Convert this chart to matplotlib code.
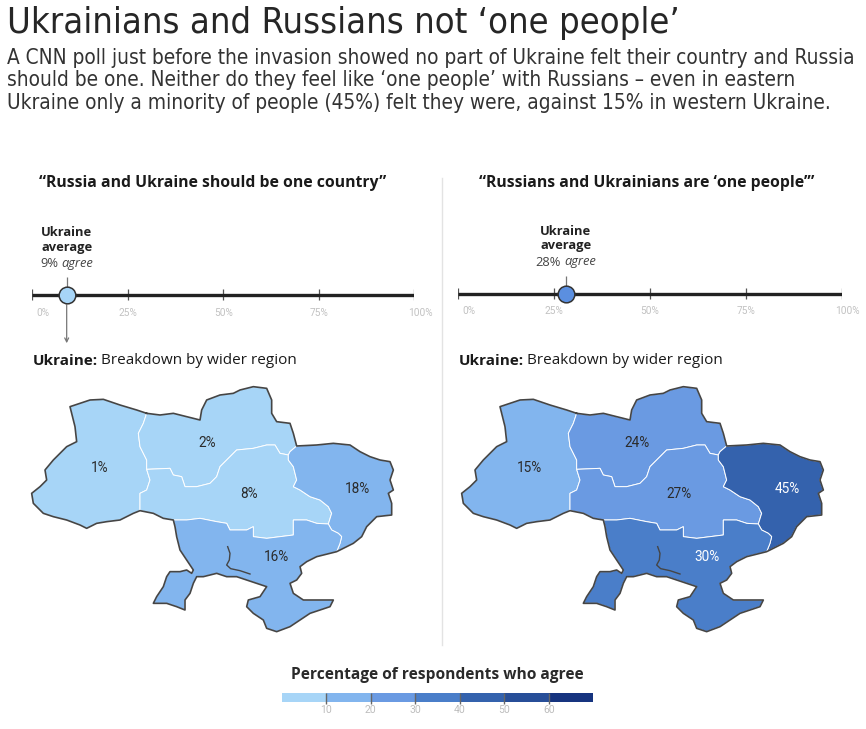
import matplotlib
matplotlib.use("Agg")
import matplotlib.pyplot as plt
from matplotlib.patches import Polygon
from matplotlib.transforms import offset_copy
from matplotlib import font_manager as fm
import numpy as np

# ---------------- data ----------------
regions = ["West", "North", "Center", "East", "South"]
one_country = [1, 2, 8, 18, 16]
one_people = [15, 24, 27, 45, 30]
averages = [9, 28]
panel_titles = ["\u201cRussia and Ukraine should be one country\u201d",
                "\u201cRussians and Ukrainians are \u2018one people\u2019\u201d"]
axis_ticks = [0, 25, 50, 75, 100]
axis_ticklabels = ["0%", "25%", "50%", "75%", "100%"]
legend_bins = [0, 10, 20, 30, 40, 50, 60, 70]
legend_ticklabels = ["10", "20", "30", "40", "50", "60"]
bin_colors = ["#a7d5f7", "#82b5ee", "#6a9ae2", "#4a7ec9", "#3462ad", "#274e98", "#16347f"]

TITLE = "Ukrainians and Russians not \u2018one people\u2019"
SUB = ["A CNN poll just before the invasion showed no part of Ukraine felt their country and Russia",
       "should be one. Neither do they feel like \u2018one people\u2019 with Russians \u2013 even in eastern",
       "Ukraine only a minority of people (45%) felt they were, against 15% in western Ukraine."]

# ---------------- map geometry (schematic outline, map units) ----------------
north_outer = [(440,100),(480,105),(520,100),(560,110),(600,120),(605,90),(620,60),(660,45),(700,40),
               (720,30),(760,20),(800,25),(815,60),(815,100),(830,125),(870,130),(880,160),(890,198)]
east_outer = [(890,198),(950,195),(1000,190),(1050,195),(1080,215),(1110,230),(1140,240),(1170,245),
              (1180,270),(1170,300),(1180,330),(1165,340),(1175,370),(1175,405),(1130,410),(1100,440),
              (1085,470),(1060,490),(1030,505),(1010,515)]
south_outer = [(1010,515),(990,520),(950,530),(920,545),(900,560),(905,580),(890,600),(870,610),(880,640),
               (910,660),(950,660),(1000,660),(990,680),(960,690),(930,700),(900,720),(870,740),(830,755),
               (800,745),(790,720),(760,700),(740,680),(745,660),(780,650),(800,620),(770,610),(740,600),
               (710,590),(680,590),(650,580),(630,585),(610,590),(590,590),(580,610),(570,640),(555,660),
               (555,690),(530,680),(500,670),(460,670),(470,650),(490,620),(500,590),(510,575),(540,575),
               (560,570),(575,580),(580,570),(560,540),(540,510),(530,470),(525,440),(520,420)]
center_outer = [(520,420),(490,415),(460,400),(420,392)]
west_outer = [(420,392),(400,400),(360,420),(320,425),(290,430),(260,445),(240,435),(200,420),(160,410),
              (130,400),(100,370),(95,340),(120,320),(140,300),(135,270),(160,240),(200,200),(230,185),
              (225,140),(210,80),(270,60),(310,58),(360,75),(410,90),(440,100)]
b_wn = [(440,100),(430,130),(415,160),(420,200),(440,240),(440,268)]
b_wc = [(440,268),(450,300),(440,330),(420,340),(420,380),(420,392)]
b_nc = [(440,268),(510,265),(520,285),(545,290),(555,320),(590,320),(630,310),(650,290),(660,260),
        (690,230),(710,210),(760,205),(800,195),(825,195),(840,220),(865,225)]
b_ne = [(890,198),(870,215),(865,225)]
b_ce = [(865,225),(865,240),(880,260),(890,300),(880,320),(900,330),(930,350),(960,360),(985,380),
        (995,400),(985,432)]
b_cs = [(520,420),(560,420),(600,415),(650,425),(680,430),(690,450),(740,450),(760,440),(760,470),
        (800,475),(840,470),(880,465),(880,420),(920,420),(950,430),(985,432)]
b_es = [(985,432),(995,450),(1015,460),(1025,470),(1020,490),(1010,515)]
estuary = [(683,500),(690,520),(688,540),(680,555),(692,566),(720,572),(750,582)]

def rev(p):
    return p[::-1]

region_polys = {
    "West": west_outer + b_wn + b_wc,
    "North": north_outer + b_ne + rev(b_nc) + rev(b_wn),
    "Center": b_nc + b_ce + rev(b_cs) + center_outer + rev(b_wc),
    "East": east_outer + rev(b_es) + rev(b_ce) + rev(b_ne),
    "South": south_outer + b_cs + b_es,
}
outer_ring = north_outer + east_outer + south_outer + center_outer + west_outer
label_pos = {"West": (298, 265), "North": (622, 190), "Center": (748, 342),
             "East": (1072, 328), "South": (830, 532)}

# ---------------- fonts ----------------
def find_condensed():
    best = None
    for f in fm.fontManager.ttflist:
        nm = f.name.lower()
        st = str(f.stretch).lower()
        is_cond = ("condensed" in nm or "narrow" in nm or "condensed" in st or "narrow" in st)
        if not is_cond or "extra" in nm or "ultra" in nm or "semi" in nm:
            continue
        if f.style != "normal":
            continue
        w = f.weight if isinstance(f.weight, int) else 400
        score = abs(w - 350)
        if best is None or score < best[0]:
            best = (score, f.fname)
    return best[1] if best else None

cond_file = find_condensed()
if cond_file:
    HEAD = dict(fontproperties=fm.FontProperties(fname=cond_file))
else:
    HEAD = dict(family=["Roboto", "DejaVu Sans"], fontweight="light")

BOLD = dict(family=["Open Sans", "DejaVu Sans"], fontweight="bold")
REG = dict(family=["Open Sans", "DejaVu Sans"])
ROB = dict(family=["Roboto", "DejaVu Sans"])

# ---------------- figure ----------------
W, H = 866, 729
fig = plt.figure(figsize=(W/100, H/100), dpi=100)
fig.patch.set_facecolor("white")
renderer = fig.canvas.get_renderer()

def fx(x): return x / W
def fy(y): return 1 - y / H

def fit(t, target_px, max_size=None):
    w = t.get_window_extent(renderer).width
    s = t.get_fontsize() * target_px / w
    if max_size is not None:
        s = min(s, max_size)
    t.set_fontsize(s)
    return t

t = fig.text(fx(7), fy(33), TITLE, fontsize=25, color="#262626", va="baseline", **HEAD)
fit(t, 681, max_size=26)
sub_targets = [853, 793, 810]
sizes = []
subs = []
for i, line in enumerate(SUB):
    s = fig.text(fx(7), fy(64 + 22.5 * i), line, fontsize=15, color="#333333", va="baseline", **HEAD)
    fit(s, sub_targets[i], max_size=15.5)
    sizes.append(s.get_fontsize())
    subs.append(s)
ms = float(np.median(sizes))
for s in subs:
    s.set_fontsize(ms)

# divider
fig.add_artist(plt.Line2D([fx(442), fx(442)], [fy(178), fy(645)], color="#e3e3e3", lw=1))

def two_part(owner, x, y, a, b, kw_a, kw_b, gap_px=0.0, center=False, transform=None):
    t1 = owner.text(x, y, a, transform=transform, **kw_a)
    t2 = owner.text(x, y, b, transform=transform, **kw_b)
    w1 = t1.get_window_extent(renderer).width + gap_px
    w2 = t2.get_window_extent(renderer).width
    tot = w1 + w2
    if center:
        t1.set_transform(offset_copy(transform, fig=fig, x=-tot/2 * 0.72, y=0, units="points"))
        t2.set_transform(offset_copy(transform, fig=fig, x=(-tot/2 + w1) * 0.72, y=0, units="points"))
    else:
        t2.set_transform(offset_copy(transform, fig=fig, x=w1 * 0.72, y=0, units="points"))
    t1.set_ha("left"); t2.set_ha("left")
    return t1, t2

panel_axes_x = [(32.3, 414.3, 295.0), (458.3, 841.7, 293.5)]
panel_title_x = [213, 647]
dot_colors = [bin_colors[0], "#5b8fe0"]
map_offsets = [0.0, 430.0]
values = [one_country, one_people]

pt_size = None
for p in range(2):
    x0, x1, yl = panel_axes_x[p]
    pt = fig.text(fx(panel_title_x[p]), fy(183), panel_titles[p], fontsize=10.3,
                  color="#1a1a1a", ha="center", va="center", **BOLD)
    if p == 0:
        fit(pt, 345)
        pt_size = pt.get_fontsize()
    else:
        pt.set_fontsize(pt_size)
    ax = fig.add_axes([fx(x0), fy(yl + 55), (x1 - x0) / W, 100 / H])
    ax.set_xlim(0, 100)
    ax.set_ylim(-55, 45)
    ax.axis("off")
    ax.plot([0, 100], [0, 0], color="#222222", lw=2.4, solid_capstyle="butt", zorder=2)
    ax.vlines(axis_ticks, -5.5, 5.5, color="#555555", lw=0.9, zorder=1)
    for tk, lab in zip(axis_ticks, axis_ticklabels):
        ha = "left" if tk == 0 else "center"
        dx = 1.0 if tk == 0 else (1.5 if tk == 100 else 0)
        ax.text(tk + dx, -18, lab, ha=ha, va="center", fontsize=7.3, color="#c2c2c2", **ROB)
    avg = averages[p]
    ax.vlines([avg], 7, 18, color="#777777", lw=0.9)
    ax.plot([avg], [0], "o", ms=12, mfc=dot_colors[p], mec="#333333", mew=1.1, zorder=5)
    if p == 0:
        ax.annotate("", xy=(avg, -51), xytext=(avg, -7),
                    arrowprops=dict(arrowstyle="->", color="#777777", lw=0.9,
                                    mutation_scale=7), annotation_clip=False)
    ax.text(avg, 62, "Ukraine", ha="center", va="center", fontsize=9.3,
            color="#222222", **BOLD)
    ax.text(avg, 47.5, "average", ha="center", va="center", fontsize=9.3,
            color="#222222", **BOLD)
    two_part(ax, avg, 31.5, f"{avg}%", "agree",
             dict(fontsize=9.3, color="#444444", va="center", **REG),
             dict(fontsize=9.3, color="#444444", style="italic", va="center", **REG),
             gap_px=3.5, center=True, transform=ax.transData)

    # breakdown heading
    two_part(fig, fx(x0 + 0.5), fy(361), "Ukraine:", "Breakdown by wider region",
             dict(fontsize=11, color="#1a1a1a", va="center", **BOLD),
             dict(fontsize=11, color="#1a1a1a", va="center", **REG),
             gap_px=3.0, transform=fig.transFigure)

    # map
    off = map_offsets[p]
    mx = fig.add_axes([fx(off), fy(640), 440 / W, 260 / H])
    mx.set_xlim(0, 1320)
    mx.set_ylim(780, 0)
    mx.axis("off")
    vals = values[p]
    for name, v in zip(regions, vals):
        c = bin_colors[min(int(v // 10), 6)]
        mx.add_patch(Polygon(region_polys[name], closed=True, fc=c, ec="white", lw=0.7, zorder=1))
        lx_, ly_ = label_pos[name]
        tc = "white" if v >= 30 else "#2b2b2b"
        mx.text(lx_, ly_, f"{v}%", ha="center", va="center", fontsize=9.8, color=tc, zorder=4, **ROB)
    ring = np.array(outer_ring + [outer_ring[0]])
    mx.plot(ring[:, 0], ring[:, 1], color="#454545", lw=1.2, zorder=3, solid_joinstyle="round")
    est = np.array(estuary)
    mx.plot(est[:, 0], est[:, 1], color="#454545", lw=1.0, zorder=3)

# legend
lt = fig.text(fx(437), fy(675), "Percentage of respondents who agree", fontsize=11,
              color="#2a2a2a", ha="center", va="center", **BOLD)
fit(lt, 291)
lx = fig.add_axes([fx(281.7), fy(712), (593.3 - 281.7) / W, 20 / H])
lx.set_xlim(0, 70)
lx.set_ylim(-10.3, 9.7)
lx.axis("off")
lefts = legend_bins[:-1]
widths = np.diff(legend_bins)
lx.bar(lefts, [9] * len(lefts), width=widths, bottom=0, align="edge", color=bin_colors, lw=0)
lx.vlines(legend_bins[1:-1], -2, 9, color="#666666", lw=1.0)
for b, lab in zip(legend_bins[1:-1], legend_ticklabels):
    lx.text(b, -8.5, lab, ha="center", va="center", fontsize=7.5, color="#bdbdbd", **ROB)

fig.savefig("out.png", dpi=100, facecolor="white")
